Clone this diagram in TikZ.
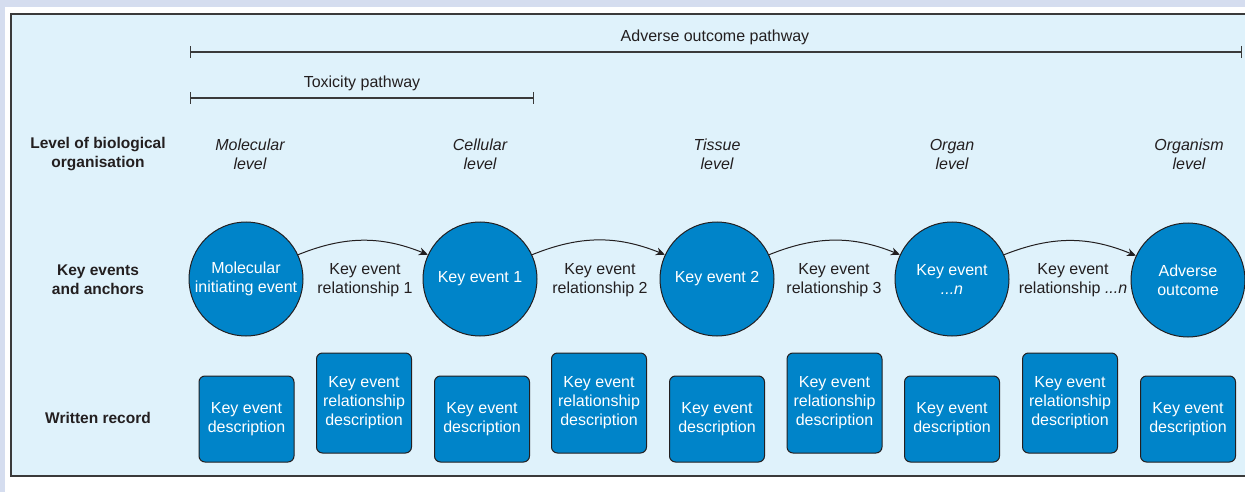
\documentclass[tikz,border=0pt]{standalone}
\usepackage{fontspec}
\setmainfont{Liberation Sans}
\usetikzlibrary{arrows.meta}
\definecolor{pagelav}{HTML}{D5DDEF}
\definecolor{panel}{HTML}{DFF2FB}
\definecolor{kefill}{HTML}{0084C9}
\definecolor{ink}{HTML}{231F20}
\definecolor{rule}{HTML}{3A3A3A}
\begin{document}
\begin{tikzpicture}[x=1pt,y=-1pt,
  every node/.style={font=\fontsize{16}{19}\selectfont, text=ink, align=center, inner sep=0pt},
  rowlabel/.style={font=\fontsize{15.5}{19}\selectfont\bfseries},
  levellabel/.style={font=\fontsize{16}{19}\selectfont\itshape},
  kecircle/.style={circle, draw=ink, line width=1pt, fill=kefill, minimum size=114pt, text=white},
  kebox/.style={rounded corners=6pt, draw=ink, line width=1pt, fill=kefill, text=white,
                minimum width=95pt, minimum height=86pt},
  kerbox/.style={kebox, minimum height=100pt},
  kerarrow/.style={draw=ink, line width=1pt, -{Stealth[length=9pt,width=8pt]}},
  span/.style={draw=rule, line width=1.3pt, {Bar[width=12pt]}-{Bar[width=12pt]}}
]
\useasboundingbox (0,0) rectangle (1245,492);
\clip (0,0) rectangle (1245,492);

% page and panel
\fill[pagelav] (0,0) rectangle (1245,492);
\fill[white] (5,7) rectangle (1260,500);
\draw[fill=panel, draw=rule, line width=1.5pt] (11,14) rectangle (1260,476);

% pathway spans
\coordinate (aopL) at (190,52);
\coordinate (aopR) at (1242,52);
\draw[span] (aopL) -- (aopR);
\node (aop) at (715,37) {Adverse outcome pathway};
\coordinate (toxL) at (190,98);
\coordinate (toxR) at (534,98);
\draw[span] (toxL) -- (toxR);
\node (tox) at (362,83) {Toxicity pathway};

% row headings
\node[rowlabel] (rowlevel) at (98,154) {Level of biological\\organisation};
\node[rowlabel] (rowkey) at (98,280) {Key events\\and anchors};
\node[rowlabel] (rowrec) at (98,418) {Written record};

% levels of organisation
\node[levellabel] (l1) at (250,154) {Molecular\\level};
\node[levellabel] (l2) at (480,154) {Cellular\\level};
\node[levellabel] (l3) at (717,154) {Tissue\\level};
\node[levellabel] (l4) at (952,154) {Organ\\level};
\node[levellabel] (l5) at (1189,154) {Organism\\level};

% key events
\node[kecircle] (c1) at (246,279) {Molecular\\initiating event};
\node[kecircle] (c2) at (480,279) {Key event 1};
\node[kecircle] (c3) at (717,279) {Key event 2};
\node[kecircle] (c4) at (952,279) {Key event\\\textit{...n}};
\node[kecircle] (c5) at (1188,280) {Adverse\\outcome};

% relationships
\node (r1) at (365,280) {Key event\\relationship 1};
\node (r2) at (600,280) {Key event\\relationship 2};
\node (r3) at (834,280) {Key event\\relationship 3};
\node (r4) at (1073,280) {Key event\\relationship \textit{...n}};

\draw[kerarrow] (c1.25) to[bend left=22] (c2.155);
\draw[kerarrow] (c2.25) to[bend left=22] (c3.155);
\draw[kerarrow] (c3.25) to[bend left=22] (c4.155);
\draw[kerarrow] (c4.25) to[bend left=22] (c5.155);

% written record
\node[kebox] (d1) at (246.5,419) {Key event\\description};
\node[kerbox] (e1) at (364,403) {Key event\\relationship\\description};
\node[kebox] (d2) at (482,419) {Key event\\description};
\node[kerbox] (e2) at (599,403) {Key event\\relationship\\description};
\node[kebox] (d3) at (717,419) {Key event\\description};
\node[kerbox] (e3) at (834.5,403) {Key event\\relationship\\description};
\node[kebox] (d4) at (952,419) {Key event\\description};
\node[kerbox] (e4) at (1070,403) {Key event\\relationship\\description};
\node[kebox] (d5) at (1188,419) {Key event\\description};
\end{tikzpicture}
\end{document}
